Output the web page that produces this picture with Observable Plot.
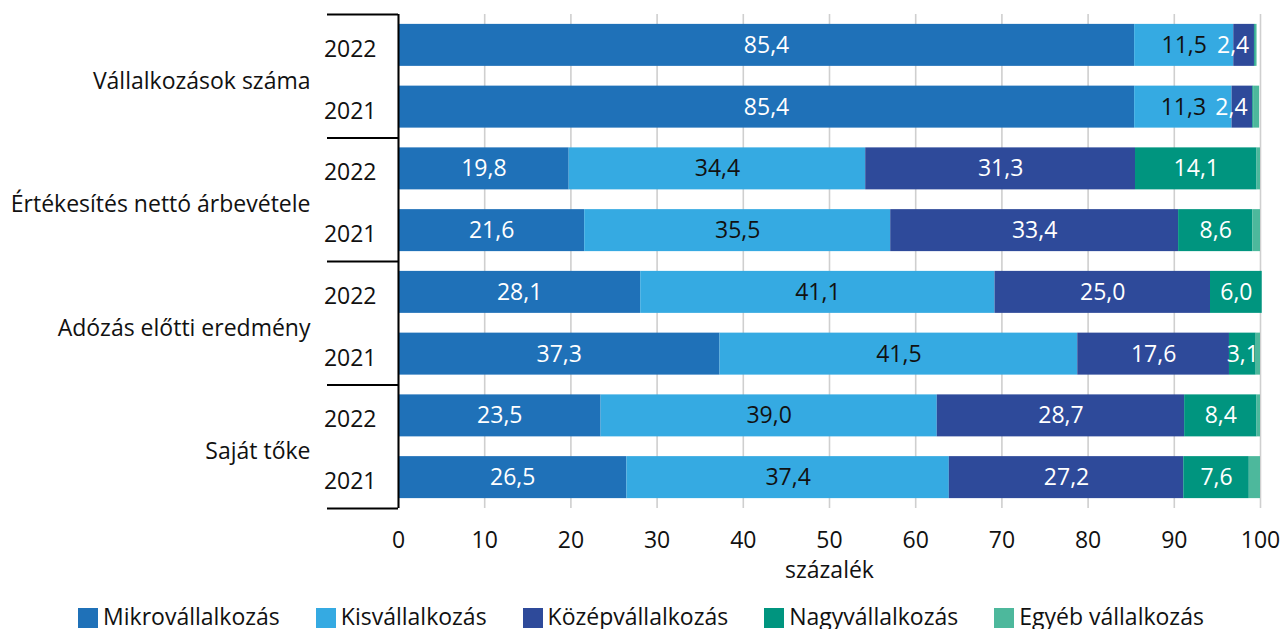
<!DOCTYPE html>
<html>
<head>
<meta charset="utf-8">
<script src="https://cdn.jsdelivr.net/npm/d3@7"></script>
<script src="https://cdn.jsdelivr.net/npm/@observablehq/plot@0.6"></script>
<style>
  html, body { margin: 0; padding: 0; background: #fff; }
  body { width: 1282px; font-family: "Open Sans", sans-serif; }
  #chart svg { display: block; }
  #legend { display: flex; justify-content: center; align-items: center; gap: 36px; font-size: 23px; line-height: 26px; color: #111; height: 26px; margin-top: 5px; }
  #legend .item { display: flex; align-items: center; gap: 5px; }
  #legend .sw { width: 20px; height: 20px; display: inline-block; margin-top: 3px; }
</style>
</head>
<body>
<div id="chart"></div>
<div id="legend"></div>
<script>
const groups = ["Vállalkozások száma", "Értékesítés nettó árbevétele", "Adózás előtti eredmény", "Saját tőke"];
const years = ["2022", "2021"];
const categories = ["Mikrovállalkozás", "Kisvállalkozás", "Középvállalkozás", "Nagyvállalkozás", "Egyéb vállalkozás"];
const colors = ["#1f71b8", "#35aae2", "#2e4a9a", "#00957f", "#4db89c"];
const labelColors = ["white", "#111", "white", "white", "white"];

// rows: Vállalkozások 2022, 2021, Értékesítés 2022, 2021, Adózás 2022, 2021, Saját tőke 2022, 2021
const mikro = [85.4, 85.4, 19.8, 21.6, 28.1, 37.3, 23.5, 26.5];
const kis   = [11.5, 11.3, 34.4, 35.5, 41.1, 41.5, 39.0, 37.4];
const kozep = [2.4, 2.4, 31.3, 33.4, 25.0, 17.6, 28.7, 27.2];
const nagy  = [0.1, 0.1, 14.1, 8.6, 6.0, 3.1, 8.4, 7.6];
const egyeb = [0.2, 0.7, 0.4, 0.9, 0.0, 0.5, 0.4, 1.3];
const xTicks = [0, 10, 20, 30, 40, 50, 60, 70, 80, 90, 100];

const series = [mikro, kis, kozep, nagy, egyeb];
const rows = d3.range(mikro.length);
const table = [];
rows.forEach(r => {
  let acc = 0;
  series.forEach((s, k) => {
    table.push({row: r, cat: categories[k], k, value: s[r], x1: acc, x2: acc + s[r]});
    acc += s[r];
  });
});
const groupCenters = groups.map((g, i) => i * years.length + (years.length - 1) / 2);
const boundaries = d3.range(groups.length + 1).map(i => i * years.length - 0.5);
const fmt = v => v.toFixed(1).replace(".", ",");
const labelled = table.filter(d => d.k < 4 && d.value >= 1);

const plot = Plot.plot({
  width: 1282,
  height: 598,
  marginTop: 14,
  marginBottom: 90,
  marginLeft: 398,
  marginRight: 22,
  style: {fontFamily: "Open Sans, sans-serif", fontSize: "23px", color: "#111"},
  x: {domain: [0, 100]},
  y: {domain: [-0.5, rows.length - 0.5], reverse: true},
  color: {domain: categories, range: colors},
  marks: [
    Plot.gridX({ticks: xTicks, stroke: "#cfcfcf", strokeOpacity: 1, strokeWidth: 1.6}),
    Plot.rectX(table, {x1: "x1", x2: "x2", y1: d => d.row - 0.34, y2: d => d.row + 0.34, fill: "cat"}),
    Plot.text(labelled.filter(d => d.value >= 3), {
      x: d => (d.x1 + d.x2) / 2, y: "row", text: d => fmt(d.value),
      fill: d => labelColors[d.k], fontSize: 23
    }),
    Plot.text(labelled.filter(d => d.value < 3), {
      x: d => (d.x1 + d.x2) / 2, y: "row", text: d => fmt(d.value),
      fill: d => labelColors[d.k], fontSize: 23, dx: -11
    }),
    Plot.ruleX([0], {stroke: "black", strokeWidth: 2}),
    Plot.axisY({ticks: boundaries, tickSize: 71, anchor: "left", color: "black", strokeWidth: 2,
      strokeOpacity: 1, tickFormat: () => "", label: null}),
    Plot.axisY({ticks: rows, anchor: "left", tickSize: 0, tickPadding: 22, dy: 4,
      tickFormat: i => years[i % years.length], label: null}),
    Plot.axisY({ticks: groupCenters, anchor: "left", tickSize: 0, tickPadding: 88, dy: 5,
      tickFormat: v => groups[Math.round((v - (years.length - 1) / 2) / years.length)], label: null}),
    Plot.axisX({ticks: xTicks, anchor: "bottom", tickSize: 0, tickPadding: 23, tickFormat: d => String(d), label: null}),
    Plot.text(["százalék"], {frameAnchor: "bottom", dy: 69, text: d => d, fontSize: 23})
  ]
});
document.getElementById("chart").appendChild(plot);

const legend = document.getElementById("legend");
categories.forEach((c, i) => {
  const item = document.createElement("div");
  item.className = "item";
  const sw = document.createElement("span");
  sw.className = "sw";
  sw.style.background = colors[i];
  const t = document.createElement("span");
  t.textContent = c;
  item.appendChild(sw);
  item.appendChild(t);
  legend.appendChild(item);
});
</script>
</body>
</html>
